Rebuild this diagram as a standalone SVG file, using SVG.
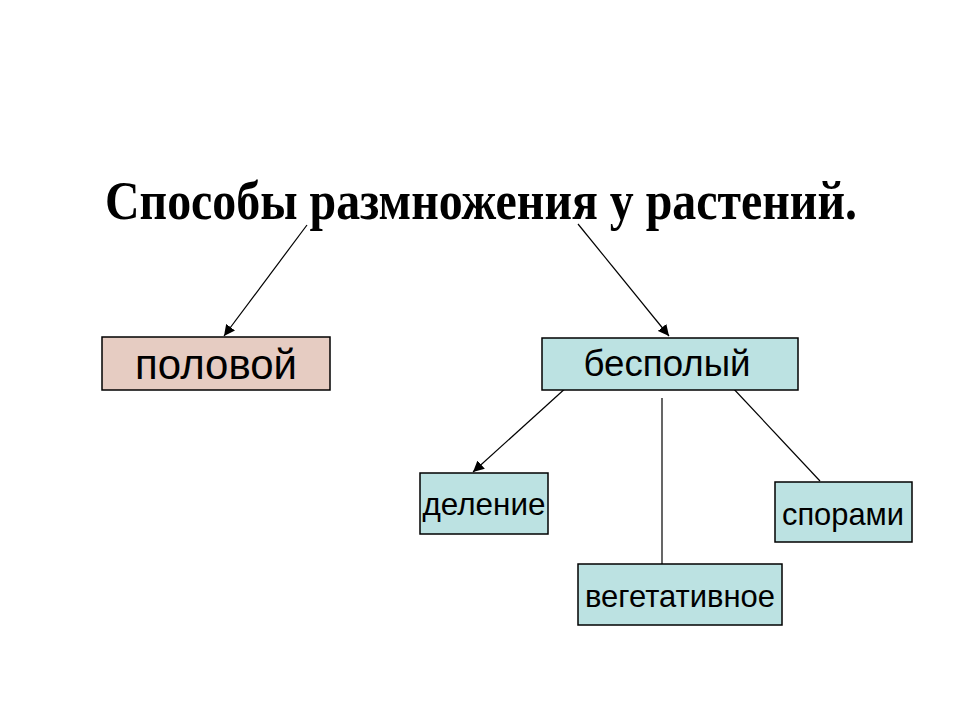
<svg xmlns="http://www.w3.org/2000/svg" width="960" height="720" viewBox="0 0 960 720">
<style>
.box{stroke:#000;stroke-width:1.5}
.pink{fill:#e6ccc2}
.cyan{fill:#bce2e2}
.lbl{font-family:"Liberation Sans",Arial,sans-serif;fill:#000;text-anchor:middle}
.title{font-family:"Liberation Serif","Times New Roman",serif;font-weight:bold;fill:#000}
.conn{stroke:#000;stroke-width:1.2;fill:none}
</style>
<defs>
<marker id="arr" viewBox="0 0 10 10" refX="10" refY="5" markerWidth="11" markerHeight="11" markerUnits="userSpaceOnUse" orient="auto">
<path d="M0,0 L10,5 L0,10 z" fill="#000"/>
</marker>
</defs>
<rect width="960" height="720" fill="#fff"/>
<g id="title">
<text class="title" x="105" y="219" font-size="54" textLength="752" lengthAdjust="spacingAndGlyphs">Способы размножения у растений.</text>
</g>
<g id="connectors">
<line class="conn" x1="307" y1="225" x2="224" y2="336" marker-end="url(#arr)"/>
<line class="conn" x1="578" y1="224" x2="669" y2="336" marker-end="url(#arr)"/>
<line class="conn" x1="568" y1="386" x2="473" y2="472" marker-end="url(#arr)"/>
<line class="conn" x1="662" y1="398" x2="662" y2="564"/>
<line class="conn" x1="731" y1="386" x2="820" y2="481"/>
</g>
<g id="polovoy">
<rect class="box pink" x="102" y="337" width="228" height="53"/>
<text class="lbl" x="216" y="379" font-size="43" textLength="162" lengthAdjust="spacingAndGlyphs">половой</text>
</g>
<g id="bespoly">
<rect class="box cyan" x="542" y="338" width="256" height="52"/>
<text class="lbl" x="667" y="376" font-size="37" textLength="167" lengthAdjust="spacingAndGlyphs">бесполый</text>
</g>
<g id="delenie">
<rect class="box cyan" x="420" y="473" width="128" height="61"/>
<text class="lbl" x="484" y="515" font-size="32" textLength="123" lengthAdjust="spacingAndGlyphs">деление</text>
</g>
<g id="sporami">
<rect class="box cyan" x="775" y="482" width="137" height="60"/>
<text class="lbl" x="843" y="525" font-size="32" textLength="122" lengthAdjust="spacingAndGlyphs">спорами</text>
</g>
<g id="vegetativnoe">
<rect class="box cyan" x="578" y="564" width="204" height="61"/>
<text class="lbl" x="680" y="607" font-size="32" textLength="190" lengthAdjust="spacingAndGlyphs">вегетативное</text>
</g>
</svg>
